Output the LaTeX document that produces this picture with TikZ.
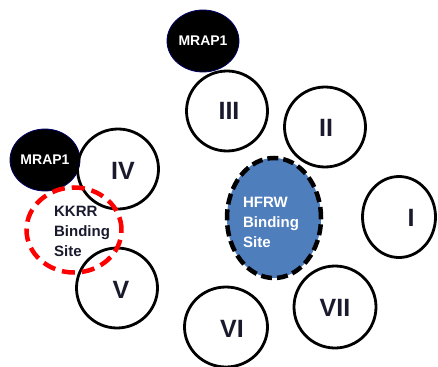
\documentclass[tikz,border=0pt]{standalone}
\usepackage{fontspec}
\setmainfont{Liberation Sans}
\usetikzlibrary{shapes.geometric}
\definecolor{hblue}{HTML}{4F7EBD}
\definecolor{ink}{HTML}{1A1A2E}
\begin{document}
\begin{tikzpicture}[x=1pt,y=-1pt,
  mrap/.style={ellipse, fill=black, draw=black!60!blue, line width=0.8pt, minimum width=72pt, minimum height=62pt, inner sep=0pt, text=white, font=\bfseries\fontsize{14}{14}\selectfont},
  helix/.style={ellipse, draw=black, line width=2.8pt, minimum width=81pt, minimum height=80pt, inner sep=0pt},
  numtxt/.style={font=\bfseries\fontsize{25}{25}\selectfont, text=ink, inner sep=0pt},
  sitetxt/.style={align=left, font=\bfseries\fontsize{15}{20}\selectfont, inner sep=0pt},
]
\useasboundingbox (0,0) rectangle (438,366);
% MRAP1 partners
\node[mrap] (m1) at (203,41) {MRAP1};
\node[mrap, minimum width=70pt] (m2) at (45,160) {MRAP1};
% helices
\node[helix] (h3) at (227,111) {};
\node[numtxt] (t3) at (229,111) {III};
\node[helix] (h2) at (325,127) {};
\node[numtxt] (t2) at (326,128) {II};
\node[helix] (h4) at (118,169) {};
\node[numtxt] (t4) at (123,171) {IV};
\node[helix] (h5) at (117,288) {};
\node[numtxt] (t5) at (121,290) {V};
\node[helix, minimum width=83pt] (h6) at (226,327) {};
\node[numtxt] (t6) at (232,329) {VI};
\node[helix, minimum width=82pt, minimum height=82pt] (h7) at (335,307) {};
\node[numtxt] (t7) at (335,308) {VII};
\node[helix, minimum width=73pt, minimum height=81pt] (h1) at (399,217) {};
\node[numtxt] (t1) at (411,218) {I};
% HFRW binding site
\node[ellipse, fill=hblue, draw=black, line width=4.5pt, dash pattern=on 11pt off 5pt, minimum width=94pt, minimum height=120pt, inner sep=0pt] (hfrw) at (274,218) {};
\node[sitetxt, text=white] (hfrwt) at (271,222) {HFRW\\Binding\\Site};
% KKRR binding site
\node[ellipse, draw=red, line width=4.5pt, dash pattern=on 13pt off 7pt, minimum width=95pt, minimum height=85pt, inner sep=0pt] (kkrr) at (74,230) {};
\node[sitetxt, text=ink] (kkrrt) at (82,231) {KKRR\\Binding\\Site};
\end{tikzpicture}
\end{document}
